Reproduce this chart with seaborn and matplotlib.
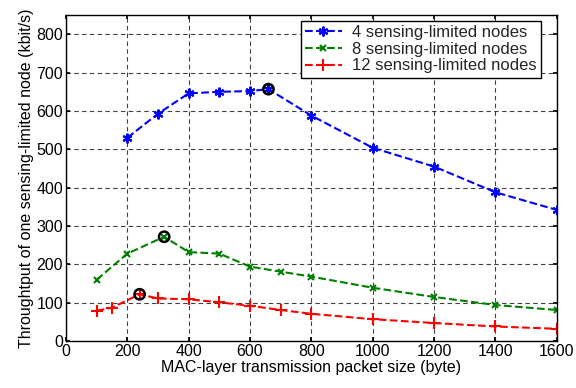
import matplotlib
matplotlib.use("Agg")
import matplotlib.pyplot as plt
import seaborn as sns
import pandas as pd

x4 = [200, 300, 400, 500, 600, 660, 800, 1000, 1200, 1400, 1600]
y4 = [530, 593, 646, 650, 652, 657, 588, 504, 455, 388, 342]
x8 = [100, 200, 320, 400, 500, 600, 700, 800, 1000, 1200, 1400, 1600]
y8 = [160, 228, 272, 232, 228, 194, 181, 168, 139, 115, 94, 81]
x12 = [100, 150, 240, 300, 400, 500, 600, 700, 800, 1000, 1200, 1400, 1600]
y12 = [79, 87, 122, 111, 109, 101, 92, 81, 71, 57, 47, 38, 32]
peak_x = [660, 320, 240]
peak_y = [657, 272, 122]
labels = ["4 sensing-limited nodes", "8 sensing-limited nodes", "12 sensing-limited nodes"]

sns.set_theme(style="white")
plt.rcParams['font.family'] = ['Liberation Sans', 'DejaVu Sans']

fig = plt.figure(figsize=(5.76, 3.88), dpi=100)
ax = fig.add_axes([0.1146, 0.121, 0.852, 0.840])

series = [(x4, y4, "#0000ff", (6, 2, 0), 7, labels[0]),
          (x8, y8, "#008000", "x", 4, labels[1]),
          (x12, y12, "#ff0000", "+", 8, labels[2])]
for xs, ys, c, m, ms, lab in series:
    df = pd.DataFrame({"x": xs, "y": ys})
    sns.lineplot(data=df, x="x", y="y", ax=ax, color=c, marker=m, markersize=ms,
                 markeredgewidth=1.5, markeredgecolor=c, linestyle="--", linewidth=1.5,
                 label=lab, sort=False)

pk = pd.DataFrame({"x": peak_x, "y": peak_y})
sns.scatterplot(data=pk, x="x", y="y", ax=ax, s=55, facecolor="none",
                edgecolor="black", linewidth=1.8, legend=False, zorder=5)

ax.set_xlim(0, 1600)
ax.set_ylim(0, 850)
ax.set_xticks(range(0, 1601, 200))
ax.set_yticks(range(0, 801, 100))
ax.grid(True, color="black", linestyle=(0, (4, 3)), linewidth=0.8, alpha=0.75)
for s in ax.spines.values():
    s.set_color("black")
    s.set_linewidth(1.0)
ax.tick_params(axis="both", labelsize=11.5, colors="black", direction="in", length=3,
               left=True, bottom=True, right=True, top=True, pad=2)
ax.set_xlabel("MAC-layer transmission packet size (byte)", fontsize=11.5, color="black", labelpad=1)
ax.set_ylabel("Throughtput of one sensing-limited node (kbit/s)", fontsize=11.5, color="black", labelpad=2)

leg = ax.legend(loc="upper right", fontsize=12, frameon=True, fancybox=False,
                edgecolor="black", framealpha=1, borderpad=0.25, labelspacing=0.1,
                handlelength=2.2, handletextpad=0.6, borderaxespad=0.0,
                bbox_to_anchor=(0.967, 0.982))
leg.get_frame().set_linewidth(1.0)

fig.savefig("out.png", dpi=100)
